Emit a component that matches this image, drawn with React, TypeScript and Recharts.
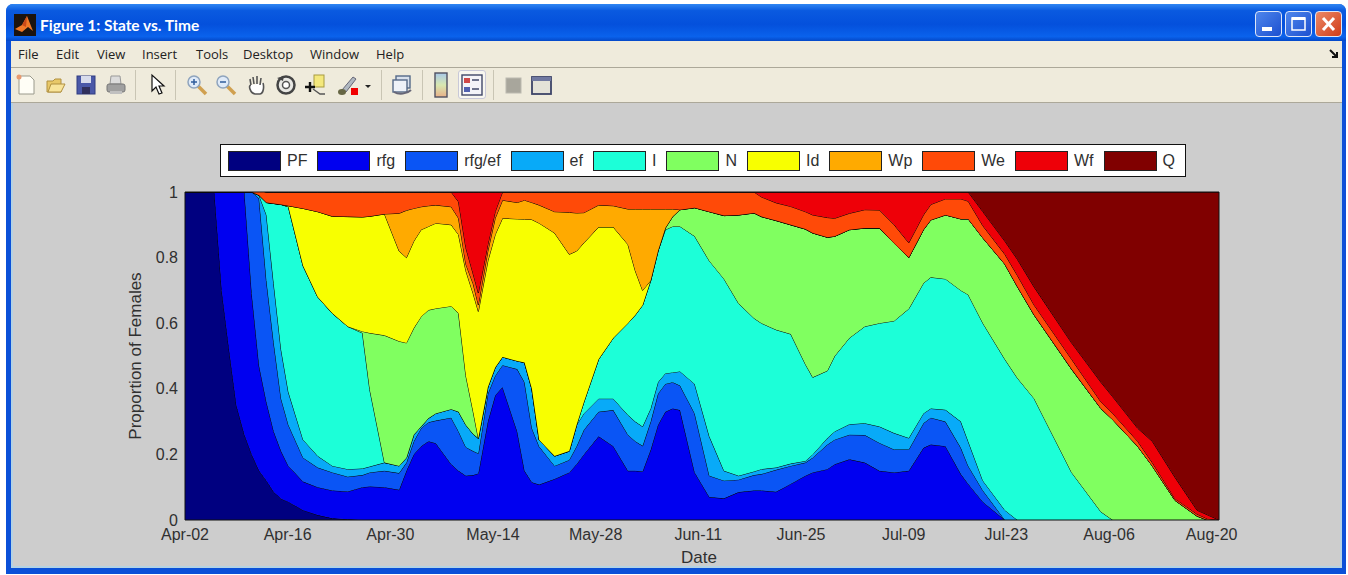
import React from 'react';
import {
	AreaChart,
	Area,
	XAxis,
	YAxis,
	Legend,
	ReferenceLine,
} from 'recharts';

const WIDTH = 1348;
const HEIGHT = 575;

// days since Apr-02, the readings below sit on these
const days = [
	0, 4, 5, 6, 7, 8.1, 9.1, 10.1, 11.1, 12.1,
	13.1, 14.1, 16.1, 18.1, 20.1, 22.2, 24.2, 25.2, 27.2, 29.2,
	30.2, 31.2, 32.2, 33.2, 34.2, 36.3, 37.3, 38.3, 39.3, 40,
	41.3, 42.3, 43.3, 45.3, 46.3, 47.3, 48.3, 50.4, 52.4, 53.4,
	54.4, 56.4, 58.4, 60.4, 61.4, 62.4, 63.5, 64.5, 65.5, 66.5,
	67.5, 69.5, 71.5, 73.5, 75.5, 77.6, 78.6, 80.6, 82.6, 84.6,
	85.6, 87.6, 88.6, 90.6, 92.7, 94.7, 96.7, 98.7, 100.7, 101.7,
	103.7, 105.8, 106.8, 108.8, 111.8, 113.5, 115.8, 120.9, 124.9, 126.5, 129.9, 131.9,
	135, 138, 139.4, 141,
];

// upper edge of each state (cumulative proportion)
const pfTop = [
	1, 1, .70, .52, .35, .26, .20, .15, .12, .085,
	.065, .055, .03, .015, .005, .002, 0, 0, 0, 0,
	0, 0, 0, 0, 0, 0, 0, 0, 0, 0,
	0, 0, 0, 0, 0, 0, 0, 0, 0, 0,
	0, 0, 0, 0, 0, 0, 0, 0, 0, 0,
	0, 0, 0, 0, 0, 0, 0, 0, 0, 0,
	0, 0, 0, 0, 0, 0, 0, 0, 0, 0,
	0, 0, 0, 0, 0, 0, 0, 0, 0, 0, 0, 0,
	0, 0, 0, 0,
];
const rfgTop = [
	1, 1, 1, 1, 1, 1, .69, .47, .36, .27,
	.21, .165, .117, .10, .09, .087, .10, .102, .10, .092,
	.15, .20, .225, .24, .234, .17, .15, .135, .137, .142,
	.30, .38, .405, .27, .15, .115, .108, .125, .145, .17,
	.20, .255, .225, .15, .15, .148, .214, .29, .33, .34,
	.335, .145, .07, .066, .085, .09, .09, .086, .11, .135,
	.145, .155, .17, .185, .175, .15, .145, .15, .22, .23,
	.225, .14, .11, .055, 0, 0, 0, 0, 0, 0, 0, 0,
	0, 0, 0, 0,
];
const rfgEfTop = [
	1, 1, 1, 1, 1, 1, 1, .98, .73, .54,
	.37, .29, .19, .16, .145, .132, .137, .145, .15, .143,
	.175, .24, .28, .298, .303, .312, .27, .222, .21, .203,
	.385, .44, .472, .46, .42, .28, .224, .165, .183, .225,
	.275, .33, .335, .26, .24, .226, .30, .385, .415, .42,
	.41, .325, .135, .12, .123, .137, .14, .153, .165, .175,
	.19, .23, .245, .26, .259, .235, .215, .215, .295, .312,
	.30, .22, .165, .09, 0, 0, 0, 0, 0, 0, 0, 0,
	0, 0, 0, 0,
];
const efTop = [
	1, 1, 1, 1, 1, 1, 1, .99, .93, .72,
	.52, .39, .245, .195, .165, .155, .157, .163, .175, .165,
	.19, .26, .285, .31, .325, .338, .33, .29, .262, .249,
	.405, .465, .497, .485, .48, .40, .244, .195, .21, .29,
	.325, .37, .37, .32, .30, .285, .34, .42, .447, .45,
	.453, .415, .255, .15, .135, .148, .155, .16, .172, .18,
	.20, .25, .27, .292, .295, .285, .265, .25, .325, .34,
	.336, .30, .24, .12, .03, 0, 0, 0, 0, 0, 0, 0,
	0, 0, 0, 0,
];
const iTop = [
	1, 1, 1, 1, 1, 1, 1, .985, .968, .965,
	.962, .955, .775, .68, .63, .59, .57, .397, .175, .165,
	.19, .26, .285, .31, .325, .338, .33, .29, .262, .249,
	.405, .465, .497, .485, .48, .40, .244, .195, .21, .29,
	.36, .49, .555, .60, .625, .655, .73, .82, .885, .895,
	.895, .865, .79, .735, .66, .615, .60, .58, .567, .475,
	.435, .455, .50, .555, .59, .60, .607, .644, .722, .74,
	.735, .70, .687, .60, .49, .433, .37, .145, .025, 0, 0, 0,
	0, 0, 0, 0,
];
const nTop = [
	1, 1, 1, 1, 1, 1, 1, .985, .968, .965,
	.962, .955, .775, .68, .63, .59, .575, .57, .563, .545,
	.54, .585, .62, .64, .645, .652, .63, .44, .33, .249,
	.405, .465, .497, .485, .48, .40, .244, .195, .21, .29,
	.36, .49, .555, .60, .625, .655, .73, .82, .89, .925,
	.946, .952, .94, .928, .93, .936, .925, .913, .90, .887,
	.875, .862, .865, .885, .89, .89, .844, .80, .885, .915,
	.93, .918, .918, .86, .78, .712, .625, .46, .34, .306, .225, .165,
	.06, .012, 0, 0,
];
const idTop = [
	1, 1, 1, 1, 1, 1, 1, .985, .968, .965,
	.962, .958, .95, .94, .926, .925, .924, .926, .933, .82,
	.80, .85, .885, .895, .905, .90, .87, .76, .69, .636,
	.79, .87, .92, .918, .917, .916, .905, .875, .81, .82,
	.845, .893, .893, .84, .76, .70, .73, .82, .89, .925,
	.946, .952, .94, .928, .93, .936, .925, .913, .90, .887,
	.875, .862, .865, .885, .89, .89, .844, .80, .885, .915,
	.93, .918, .918, .86, .78, .712, .625, .46, .34, .306, .225, .165,
	.06, .012, 0, 0,
];
const wpTop = [
	1, 1, 1, 1, 1, 1, 1, .985, .968, .965,
	.962, .958, .95, .94, .926, .925, .924, .926, .933, .935,
	.944, .95, .955, .958, .96, .955, .92, .78, .72, .656,
	.82, .92, .975, .968, .975, .968, .96, .94, .938, .936,
	.937, .96, .958, .948, .948, .948, .948, .948, .948, .948,
	.946, .952, .94, .928, .93, .936, .925, .913, .90, .887,
	.875, .862, .865, .885, .89, .89, .844, .80, .885, .915,
	.93, .918, .918, .86, .78, .712, .625, .46, .34, .306, .225, .165,
	.06, .012, 0, 0,
];
const weTop = [
	1, 1, 1, 1, 1, 1, 1, 1, 1, 1,
	1, 1, 1, 1, 1, 1, 1, 1, 1, 1,
	1, 1, 1, 1, 1, 1, .97, .83, .75, .692,
	.84, .94, 1, 1, 1, 1, 1, 1, 1, 1,
	1, 1, 1, 1, 1, 1, 1, 1, 1, 1,
	1, 1, 1, 1, 1, 1, .985, .967, .956, .94,
	.93, .922, .92, .935, .946, .945, .90, .845, .93, .962,
	.979, .979, .972, .897, .81, .746, .655, .49, .36, .325, .24, .175,
	.065, .018, .004, 0,
];
const wfTop = [
	1, 1, 1, 1, 1, 1, 1, 1, 1, 1,
	1, 1, 1, 1, 1, 1, 1, 1, 1, 1,
	1, 1, 1, 1, 1, 1, 1, 1, 1, 1,
	1, 1, 1, 1, 1, 1, 1, 1, 1, 1,
	1, 1, 1, 1, 1, 1, 1, 1, 1, 1,
	1, 1, 1, 1, 1, 1, 1, 1, 1, 1,
	1, 1, 1, 1, 1, 1, 1, 1, 1, 1,
	1, 1, 1, .94, .85, .795, .71, .54, .42, .376, .28, .24,
	.13, .03, .016, 0,
];
const qTop = days.map(() => 1);

const stateNames = ['PF', 'rfg', 'rfg/ef', 'ef', 'I', 'N', 'Id', 'Wp', 'We', 'Wf', 'Q'];
const stateColors = ['#000080', '#0000f0', '#0a55f5', '#08aaf8', '#1cffd8', '#80ff60', '#f8ff00', '#ffaa00', '#ff4a08', '#ee0008', '#800000'];
const stateTops = [pfTop, rfgTop, rfgEfTop, efTop, iTop, nTop, idTop, wpTop, weTop, wfTop, qTop];

const dayTicks = [0, 14, 28, 42, 56, 70, 84, 98, 112, 126, 140];
const dateLabels = ['Apr-02', 'Apr-16', 'Apr-30', 'May-14', 'May-28', 'Jun-11', 'Jun-25', 'Jul-09', 'Jul-23', 'Aug-06', 'Aug-20'];
const propTicks = [0, 0.2, 0.4, 0.6, 0.8, 1];

const menuItems = ['File', 'Edit', 'View', 'Insert', 'Tools', 'Desktop', 'Window', 'Help'];
const menuLefts = [18, 56, 97, 142, 196, 243, 310, 376];

// stacked bands are the difference between neighbouring edges
const chartData = days.map((day, i) => {
	const row: Record<string, number> = { day };
	stateNames.forEach((name, k) => {
		row[name] = Math.max(0, stateTops[k][i] - (k > 0 ? stateTops[k - 1][i] : 0));
	});
	return row;
});

const textFont = '"Liberation Sans", Arial, sans-serif';
const tickStyle = { fontSize: 16, fill: '#303030', fontFamily: textFont };
const axisTitleStyle = { fontSize: 17, fill: '#303030', fontFamily: textFont };

const StateLegend = ({ payload }: any) => (
	<div style={{
		boxSizing: 'border-box', width: 966, height: 33, background: '#fff', border: '1.5px solid #111',
		display: 'flex', alignItems: 'center', paddingLeft: 7, gap: 10,
		fontFamily: textFont, fontSize: 16, color: '#303030',
	}}>
		{(payload || []).map((item: any) => (
			<div key={item.value} style={{ display: 'flex', alignItems: 'center', gap: 6 }}>
				<span style={{ boxSizing: 'border-box', display: 'block', width: 53, height: 20, background: stateColors[stateNames.indexOf(item.value)], border: '1px solid #222' }} />
				<span>{item.value}</span>
			</div>
		))}
	</div>
);

const Tool = ({ x, w = 22, children }: { x: number; w?: number; children: React.ReactNode }) => (
	<svg width={w} height={24} viewBox={`0 0 ${w} 24`} style={{ position: 'absolute', left: x, top: 73 }}>
		{children}
	</svg>
);

const Sep = ({ x }: { x: number }) => (
	<div style={{ position: 'absolute', left: x, top: 70, width: 1, height: 30, background: '#c9c5b4' }} />
);

const Magnifier = ({ sign }: { sign: string }) => (
	<>
		<line x1="12" y1="13" x2="20" y2="21" stroke="#d0a050" strokeWidth="3.5" />
		<circle cx="8" cy="9" r="6" fill="#dfeaf8" stroke="#8fa4bd" strokeWidth="1.5" />
		<line x1="5" y1="9" x2="11" y2="9" stroke="#2f5d9c" strokeWidth="1.5" />
		{sign === '+' && <line x1="8" y1="6" x2="8" y2="12" stroke="#2f5d9c" strokeWidth="1.5" />}
	</>
);

const Toolbar = () => (
	<>
		<Tool x={15}>
			<path d="M4 3 H15 L19 7 V21 H4 Z" fill="#fffef6" stroke="#9a9a8c" />
			<circle cx="4" cy="4" r="2.5" fill="#e89a70" />
		</Tool>
		<Tool x={45}>
			<path d="M2 8 H8 L10 6 H16 V19 H2 Z" fill="#e8c868" stroke="#b09040" />
			<path d="M3 19 L6 11 H20 L16 19 Z" fill="#f8e49a" stroke="#b09040" />
		</Tool>
		<Tool x={75}>
			<rect x="2" y="3" width="18" height="18" fill="#4a58a8" stroke="#303c80" />
			<rect x="6" y="3" width="10" height="7" fill="#d8dcec" />
			<rect x="7" y="14" width="8" height="7" fill="#30305c" />
		</Tool>
		<Tool x={105}>
			<path d="M6 3 H15 L16 11 H5 Z" fill="#dcdcdc" stroke="#999" />
			<rect x="2" y="11" width="18" height="8" rx="2" fill="#a0a0a0" stroke="#777" />
			<rect x="5" y="18" width="12" height="3" fill="#c0c0c0" />
		</Tool>
		<Sep x={135} />
		<Tool x={147}>
			<path d="M5 2 L5 18 L9 14 L12 21 L15 20 L12 13 L17 13 Z" fill="#fff" stroke="#111" strokeWidth="1.2" />
		</Tool>
		<Sep x={175} />
		<Tool x={186}><Magnifier sign="+" /></Tool>
		<Tool x={215}><Magnifier sign="-" /></Tool>
		<Tool x={245}>
			<path d="M6 12 L5 6 M9 11 L8 4 M12 11 L12 3 M15 12 L16 5 M6 12 C3 12 5 20 10 21 H15 C19 20 19 13 18 10" fill="#fff" stroke="#555" strokeWidth="1.6" />
		</Tool>
		<Tool x={275}>
			<circle cx="11" cy="12" r="8.5" fill="#e8e8e4" stroke="#444" strokeWidth="2.5" />
			<circle cx="11" cy="12" r="3.5" fill="#fff" stroke="#555" strokeWidth="1.5" />
			<path d="M2 5 L9 3 L8 8 Z" fill="#444" />
		</Tool>
		<Tool x={304}>
			<rect x="10" y="2" width="10" height="12" fill="#f4e87c" stroke="#a89c40" />
			<path d="M1 14 H11 M6 9 V19" stroke="#111" strokeWidth="2.4" />
			<path d="M9 16 L16 21 H21" stroke="#555" strokeWidth="1.4" fill="none" />
		</Tool>
		<Tool x={337}>
			<path d="M5 17 L16 4 L19 6 L9 19 Z" fill="#b0b8c0" stroke="#667" />
			<ellipse cx="5" cy="19" rx="4" ry="3" fill="#666644" />
			<rect x="14" y="15" width="7" height="7" fill="#f00000" />
		</Tool>
		<Tool x={363} w={10}>
			<path d="M2 12 H8 L5 15 Z" fill="#222" />
		</Tool>
		<Sep x={381} />
		<Tool x={391}>
			<rect x="5" y="3" width="14" height="12" fill="#d8e0ec" stroke="#556a88" strokeWidth="1.4" />
			<rect x="2" y="7" width="14" height="12" fill="#eef2f8" stroke="#556a88" strokeWidth="1.4" />
			<path d="M3 19 C8 22 16 21 20 17" stroke="#667" strokeWidth="2" fill="none" />
		</Tool>
		<Sep x={422} />
		<svg width={14} height={26} style={{ position: 'absolute', left: 434, top: 72 }}>
			<defs>
				<linearGradient id="cbar" x1="0" y1="0" x2="0" y2="1">
					<stop offset="0" stopColor="#a8c8e8" />
					<stop offset="0.5" stopColor="#d8e8b0" />
					<stop offset="1" stopColor="#e8b088" />
				</linearGradient>
			</defs>
			<rect x="1" y="1" width="12" height="24" fill="url(#cbar)" stroke="#505060" strokeWidth="1.4" />
		</svg>
		<div style={{ position: 'absolute', left: 458, top: 70, width: 28, height: 29, background: '#f8f7f0', border: '1px solid #c8c8d8', borderRadius: 3, boxSizing: 'border-box' }} />
		<Tool x={461}>
			<rect x="1" y="2" width="20" height="20" fill="#f4f4f8" stroke="#404868" strokeWidth="1.4" />
			<rect x="3" y="5" width="6" height="5" fill="#d04848" />
			<rect x="3" y="14" width="6" height="5" fill="#5060b0" />
			<path d="M11 7 H18 M11 16 H18" stroke="#404868" strokeWidth="1.6" />
		</Tool>
		<Sep x={493} />
		<Tool x={503}>
			<rect x="3" y="5" width="15" height="15" fill="#a8a69c" stroke="#bcbab0" />
		</Tool>
		<Tool x={531}>
			<rect x="1" y="4" width="19" height="17" fill="#e4e2d8" stroke="#3c4468" strokeWidth="1.8" />
			<rect x="1" y="4" width="19" height="4" fill="#7078a0" />
		</Tool>
	</>
);

const CaptionButton = ({ x, bg, children }: { x: number; bg: string; children: React.ReactNode }) => (
	<div style={{ position: 'absolute', left: x, top: 11, width: 27, height: 26, boxSizing: 'border-box', border: '1px solid #dde6f8', borderRadius: 4, background: bg }}>
		<svg width={25} height={24} style={{ display: 'block' }}>{children}</svg>
	</div>
);

const WindowFrame = () => (
	<>
		{/* blue frame */}
		<div style={{ position: 'absolute', left: 6, top: 4, width: 1340, height: 570, background: '#0a50d8', borderRadius: '7px 7px 0 0' }} />
		{/* title bar */}
		<div style={{ position: 'absolute', left: 6, top: 4, width: 1340, height: 37, borderRadius: '7px 7px 0 0', background: 'linear-gradient(#2f86f2 0%, #0a5ae0 18%, #0450dc 55%, #0a62ec 88%, #0448c8 100%)' }} />
		<svg width={22} height={22} style={{ position: 'absolute', left: 14, top: 14 }}>
			<rect width="22" height="22" fill="#1c1410" />
			<path d="M1 15 L8 11 L13 2 L19 17 L14 13 L8 18 Z" fill="#f07828" />
			<path d="M8 11 L13 2 L12 13 Z" fill="#c84818" />
		</svg>
		<div style={{ position: 'absolute', left: 40, top: 15, color: '#fff', fontFamily: 'Lato, sans-serif', fontWeight: 700, fontSize: 15.5, lineHeight: '20px', whiteSpace: 'nowrap' }}>
			Figure 1: State vs. Time
		</div>
		<CaptionButton x={1255} bg="linear-gradient(135deg, #4f86ec, #1c50d0)">
			<rect x="6" y="15" width="10" height="4" fill="#fff" />
		</CaptionButton>
		<CaptionButton x={1285} bg="linear-gradient(135deg, #4f86ec, #1c50d0)">
			<rect x="6" y="6" width="13" height="12" fill="none" stroke="#fff" strokeWidth="1.5" />
			<rect x="6" y="5" width="13" height="3" fill="#fff" />
		</CaptionButton>
		<CaptionButton x={1315} bg="linear-gradient(135deg, #ec8a68, #d03c18)">
			<path d="M7 6 L18 18 M18 6 L7 18" stroke="#fff" strokeWidth="3" />
		</CaptionButton>
		{/* menu bar */}
		<div style={{ position: 'absolute', left: 11, top: 41, width: 1331, height: 27, background: '#efebdc', borderBottom: '1px solid #aca899', boxSizing: 'border-box' }} />
		{menuItems.map((item, i) => (
			<div key={item} style={{ position: 'absolute', left: menuLefts[i], top: 46, fontFamily: '"Open Sans", sans-serif', fontSize: 13, lineHeight: '16px', color: '#222' }}>{item}</div>
		))}
		<svg width={10} height={10} style={{ position: 'absolute', left: 1329, top: 49 }}>
			<path d="M1 1 L8 8 M8 3 V8 H3" stroke="#111" strokeWidth="2" fill="none" />
		</svg>
		{/* toolbar */}
		<div style={{ position: 'absolute', left: 11, top: 68, width: 1331, height: 35, background: '#efebdc', borderBottom: '1px solid #aca899', boxSizing: 'border-box' }} />
		<Toolbar />
		{/* figure background, pale inner edge like the window theme */}
		<div style={{ position: 'absolute', left: 11, top: 103, width: 1331, height: 465, background: '#cdcdcd', boxSizing: 'border-box', borderLeft: '2px solid #b4d2e4', borderRight: '2px solid #b4d2e4', borderBottom: '2px solid #b4d2e4' }} />
	</>
);

export default function App() {
	return (
		<div style={{ position: 'absolute', left: 0, top: 0, width: WIDTH, height: HEIGHT, overflow: 'hidden', background: '#fff' }}>
			<WindowFrame />
			<AreaChart
				width={WIDTH}
				height={HEIGHT}
				data={chartData}
				margin={{ top: 192, right: 129, left: 145, bottom: 10 }}
				style={{ position: 'absolute', left: 0, top: 0 }}
			>
				<XAxis
					dataKey="day"
					type="number"
					domain={[0, 141]}
					ticks={dayTicks}
					height={45}
					interval={0}
					tickLine={false}
					tickSize={0}
					tickMargin={9}
					tick={tickStyle}
					tickFormatter={(v: number) => dateLabels[dayTicks.indexOf(v)]}
					axisLine={{ stroke: '#111' }}
					label={{ value: 'Date', position: 'insideBottom', offset: 2, dx: -3, style: axisTitleStyle }}
				/>
				<YAxis
					type="number"
					domain={[0, 1]}
					ticks={propTicks}
					allowDataOverflow
					width={40}
					interval={0}
					tickLine={false}
					tickSize={0}
					tickMargin={7}
					tick={tickStyle}
					axisLine={{ stroke: '#111' }}
					label={{ value: 'Proportion of Females', angle: -90, position: 'insideLeft', offset: -10, style: { ...axisTitleStyle, textAnchor: 'middle' } }}
				/>
				<Legend
					layout="vertical"
					align="center"
					verticalAlign="middle"
					itemSorter={null}
					wrapperStyle={{ left: 220, top: 144, width: 966, height: 33 }}
					content={<StateLegend />}
				/>
				{stateNames.map((name, k) => (
					<Area
						key={name}
						type="linear"
						dataKey={name}
						name={name}
						stackId="states"
						stroke="#000"
						strokeWidth={1}
						fill={stateColors[k]}
						fillOpacity={1}
						dot={false}
						activeDot={false}
						isAnimationActive={false}
					/>
				))}
				<ReferenceLine y={1} stroke="#111" />
				<ReferenceLine x={141} stroke="#111" />
			</AreaChart>
		</div>
	);
}
